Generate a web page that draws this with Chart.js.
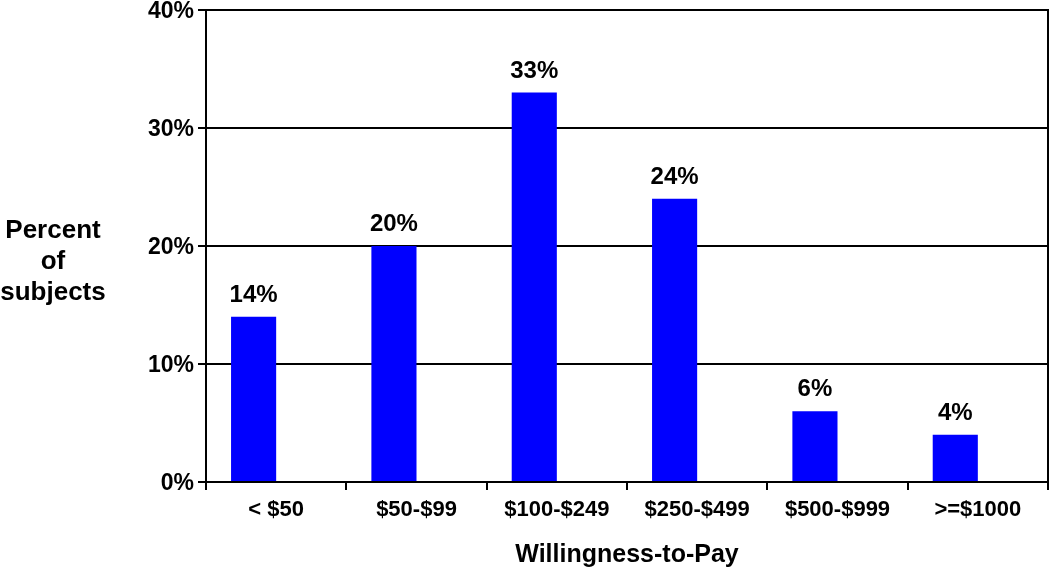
<!DOCTYPE html>
<html>
<head>
<meta charset="utf-8">
<script src="https://cdn.jsdelivr.net/npm/chart.js@4/dist/chart.umd.min.js"></script>
<style>
html,body{margin:0;padding:0;background:#fff;}
#wrap{width:1050px;height:568px;position:relative;}
</style>
</head>
<body>
<div id="wrap"><canvas id="c" width="1050" height="568"></canvas></div>
<script>
const categories = ["< $50", "$50-$99", "$100-$249", "$250-$499", "$500-$999", ">=$1000"];
const percentValues = [14, 20, 33, 24, 6, 4];
const emptySeries = [null, null, null, null, null, null];
const yTicks = [0, 10, 20, 30, 40];
const yTitleLines = ["Percent", "of", "subjects"];
const xTitle = "Willingness-to-Pay";

const FONT = "'Liberation Sans', Arial, Helvetica, sans-serif";

const overlay = {
  id: 'overlay',
  afterDraw(chart) {
    const ctx = chart.ctx;
    const area = chart.chartArea;
    ctx.save();
    ctx.strokeStyle = '#000';
    ctx.lineWidth = 2;
    ctx.beginPath();
    ctx.moveTo(area.right, area.top - 1);
    ctx.lineTo(area.right, area.bottom);
    ctx.stroke();
    ctx.fillStyle = '#000';
    ctx.font = 'bold 24px ' + FONT;
    ctx.textAlign = 'center';
    ctx.textBaseline = 'alphabetic';
    const meta = chart.getDatasetMeta(0);
    meta.data.forEach((bar, i) => {
      ctx.fillText(percentValues[i] + '%', bar.x, bar.y - 15);
    });
    ctx.font = 'bold 26px ' + FONT;
    yTitleLines.forEach((t, i) => {
      ctx.fillText(t, 53, 238 + i * 31);
    });
    ctx.font = 'bold 25px ' + FONT;
    ctx.fillText(xTitle, 627, 562);
    ctx.restore();
  }
};

new Chart(document.getElementById('c'), {
  type: 'bar',
  data: {
    labels: categories,
    datasets: [
      { data: percentValues, backgroundColor: '#0000FF', borderWidth: 0 },
      { data: emptySeries, backgroundColor: '#0000FF', borderWidth: 0 }
    ]
  },
  options: {
    responsive: false,
    animation: false,
    devicePixelRatio: 1,
    categoryPercentage: 0.643,
    barPercentage: 1,
    layout: { padding: { top: 0, right: 2, left: 0, bottom: 0 } },
    plugins: { legend: { display: false }, tooltip: { enabled: false } },
    scales: {
      x: {
        grid: { display: true, drawOnChartArea: false, drawTicks: true, tickLength: 8, color: '#000', lineWidth: 2, offset: true },
        border: { display: true, color: '#000', width: 2 },
        ticks: { color: '#000', font: { family: FONT, size: 22, weight: 'bold' }, padding: 7, maxRotation: 0 },
        afterFit(scale) { scale.height = 86; }
      },
      y: {
        min: 0, max: 40,
        afterBuildTicks(scale) { scale.ticks = yTicks.map(v => ({ value: v })); },
        grid: { color: '#000', lineWidth: 2, tickLength: 8, drawTicks: true },
        border: { display: true, color: '#000', width: 2 },
        ticks: { color: '#000', font: { family: FONT, size: 23, weight: 'bold' }, padding: 4, labelOffset: 2, callback: v => v + '%' },
        afterFit(scale) { scale.width = 206; scale.paddingTop = 10; scale.paddingBottom = 0; }
      }
    }
  },
  plugins: [overlay]
});
</script>
</body>
</html>
